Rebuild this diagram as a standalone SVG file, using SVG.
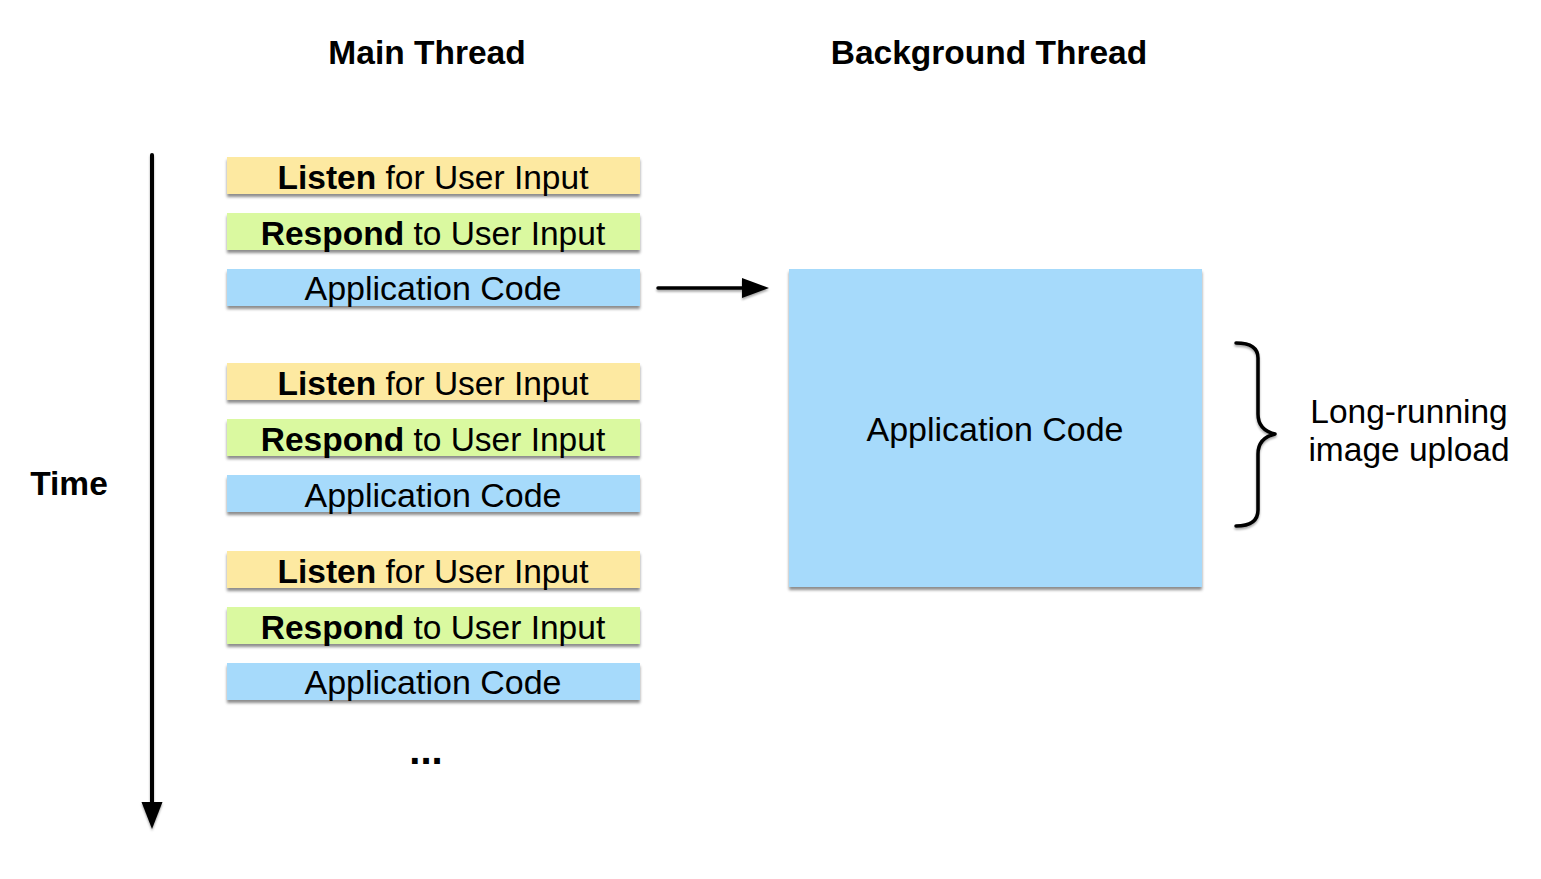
<svg xmlns="http://www.w3.org/2000/svg" width="1541" height="879" viewBox="0 0 1541 879">
<defs>
<filter id="sh" x="-5%" y="-20%" width="110%" height="160%">
<feDropShadow dx="0" dy="3" stdDeviation="1.5" flood-color="#000" flood-opacity="0.45"/>
</filter>
<filter id="lsh" x="-20%" y="-20%" width="140%" height="140%">
<feDropShadow dx="0" dy="2" stdDeviation="1.2" flood-color="#000" flood-opacity="0.35"/>
</filter>
</defs>
<style>
text{font-family:"Liberation Sans",Arial,sans-serif;fill:#000}
.t{font-size:33.5px;text-anchor:middle}
.a{font-size:34px}
.b{font-weight:bold}
.h{font-size:33.5px;font-weight:bold;text-anchor:middle}
.y{fill:#FDE9A1}
.g{fill:#DAF9A0}
.bl{fill:#A6DAFB}
</style>
<rect width="1541" height="879" fill="#fff"/>
<text class="h" x="427" y="64">Main Thread</text>
<text class="h" x="989" y="64">Background Thread</text>
<text class="h" x="69" y="495">Time</text>

<g id="m1l"><rect class="y" x="227" y="157" width="413" height="37" filter="url(#sh)"/><text class="t" x="433" y="189"><tspan class="b">Listen</tspan> for User Input</text></g>
<g id="m1r"><rect class="g" x="227" y="213" width="413" height="37" filter="url(#sh)"/><text class="t" x="433" y="245"><tspan class="b">Respond</tspan> to User Input</text></g>
<g id="m1a"><rect class="bl" x="227" y="269" width="413" height="37" filter="url(#sh)"/><text class="t a" x="433" y="300">Application Code</text></g>

<g id="m2l"><rect class="y" x="227" y="363" width="413" height="37" filter="url(#sh)"/><text class="t" x="433" y="395"><tspan class="b">Listen</tspan> for User Input</text></g>
<g id="m2r"><rect class="g" x="227" y="419" width="413" height="37" filter="url(#sh)"/><text class="t" x="433" y="451"><tspan class="b">Respond</tspan> to User Input</text></g>
<g id="m2a"><rect class="bl" x="227" y="475" width="413" height="37" filter="url(#sh)"/><text class="t a" x="433" y="507">Application Code</text></g>

<g id="m3l"><rect class="y" x="227" y="551" width="413" height="37" filter="url(#sh)"/><text class="t" x="433" y="583"><tspan class="b">Listen</tspan> for User Input</text></g>
<g id="m3r"><rect class="g" x="227" y="607" width="413" height="37" filter="url(#sh)"/><text class="t" x="433" y="639"><tspan class="b">Respond</tspan> to User Input</text></g>
<g id="m3a"><rect class="bl" x="227" y="663" width="413" height="37" filter="url(#sh)"/><text class="t a" x="433" y="694">Application Code</text></g>

<text class="h" x="426" y="764" style="font-size:40px">...</text>

<g id="bg"><rect class="bl" x="789" y="269" width="413" height="318" filter="url(#sh)"/><text class="t a" x="995" y="441">Application Code</text></g>

<g id="connectors" filter="url(#lsh)">
<line x1="152" y1="155" x2="152" y2="805" stroke="#000" stroke-width="4" stroke-linecap="round"/>
<polygon points="141.5,802 162.5,802 152,829" fill="#000"/>
<line x1="658" y1="288" x2="745" y2="288" stroke="#000" stroke-width="3.5" stroke-linecap="round"/>
<polygon points="742,278 742,298 769,288" fill="#000"/>
</g>

<g id="brace" filter="url(#lsh)">
<path d="M1236,343 Q1258,343 1258,358 L1258,414 Q1258,430 1275,434 Q1258,438 1258,454 L1258,510 Q1258,526 1236,526" fill="none" stroke="#000" stroke-width="3.5" stroke-linecap="round" stroke-linejoin="round"/>
</g>
<text class="t" x="1409" y="423">Long-running</text>
<text class="t" x="1409" y="461">image upload</text>
</svg>
